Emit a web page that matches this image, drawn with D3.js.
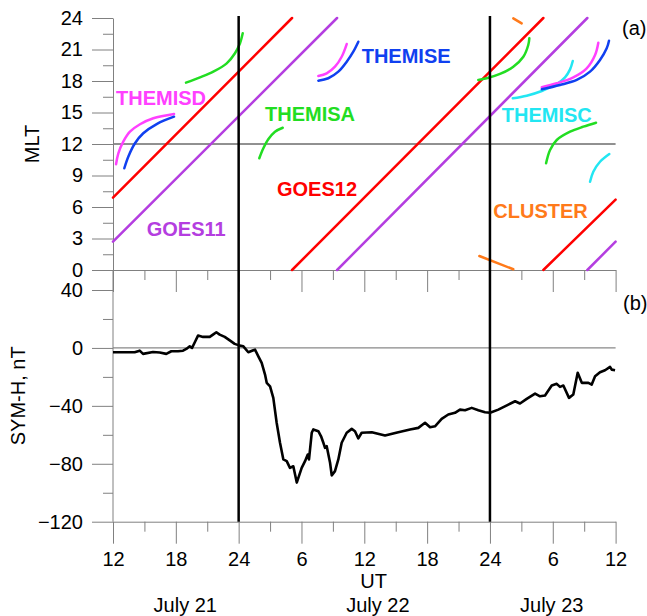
<!DOCTYPE html>
<html>
<head>
<meta charset="utf-8">
<script src="https://cdn.jsdelivr.net/npm/d3@7"></script>
<style>
  body { margin: 0; background: #fff; }
  svg { display: block; font-family: "Liberation Sans", Arial, sans-serif; }
  .axis path, .axis line { stroke: #808080; }
  .axis text { fill: #000; font-size: 20px; }
  .sat { fill: none; stroke-width: 2.5; stroke-linecap: round; }
</style>
</head>
<body>
<svg id="chart" width="647" height="616"></svg>
<script>
// UT in hours counted from July 21 00 UT
const utTicks = [12, 18, 24, 30, 36, 42, 48, 54, 60]
const utTickLabels = ['12', '18', '24', '6', '12', '18', '24', '6', '12']
const utMinorTicks = [15, 21, 27, 33, 39, 45, 51, 57]
const dayLines = [24, 48]
const dayLabels = ['July 21', 'July 22', 'July 23']
const dayLabelUT = [18.9, 37.3, 53.9]

const mltTicks = [0, 3, 6, 9, 12, 15, 18, 21, 24]
const mltMinorTicks = [1.5, 4.5, 7.5, 10.5, 13.5, 16.5, 19.5, 22.5]
const symTicks = [-120, -80, -40, 0, 40]
const symMinorTicks = [-100, -60, -20, 20]

// satellite MLT tracks, [UT, MLT] per point, one array per segment
const goes12 = [
  [[12, 6.9], [29.1, 24]],
  [[29.1, 0], [53.1, 24]],
  [[53.1, 0], [60, 6.7]],
]
const goes11 = [
  [[12, 2.7], [33.4, 24]],
  [[33.4, 0], [57.3, 24]],
  [[57.3, 0], [60, 2.7]],
]
const themisD = [
  [[12.29, 10.07], [12.51, 11.11], [12.98, 12.22], [13.62, 13.17], [14.58, 13.88], [15.85, 14.45], [17.83, 14.86]],
  [[31.61, 18.48], [32.41, 18.73], [33.2, 19.36], [33.84, 20.31], [34.32, 21.52]],
  [[52.95, 17.4], [54.38, 17.78], [55.96, 18.35], [57.24, 19.21], [58.04, 20.48], [58.35, 21.65]],
]
const themisE = [
  [[13.08, 9.69], [13.46, 10.79], [14.1, 12.07], [14.89, 13.02], [16.17, 13.9], [17.83, 14.6]],
  [[31.61, 18.03], [32.56, 18.26], [33.52, 18.89], [34.32, 19.84], [34.95, 20.79], [35.43, 21.74]],
  [[52.95, 17.21], [54.69, 17.62], [56.29, 18.1], [57.56, 18.89], [58.51, 20.0], [59.15, 21.11], [59.37, 21.84]],
]
const themisA = [
  [[18.97, 17.84], [20.31, 18.35], [21.58, 18.89], [22.86, 19.68], [23.65, 20.64], [24.13, 21.59], [24.39, 22.54]],
  [[25.97, 10.64], [26.36, 11.59], [26.83, 12.45], [27.47, 13.17], [28.21, 13.55]],
  [[46.89, 18.1], [47.69, 18.26], [48.96, 18.67], [50.23, 19.36], [51.19, 20.31], [51.66, 21.43], [51.76, 22.06]],
  [[53.36, 10.16], [53.74, 11.43], [54.38, 12.38], [55.65, 13.17], [56.92, 13.65], [58.13, 14.03]],
]
const themisC = [
  [[50.18, 16.35], [51.51, 16.6], [52.95, 17.05], [54.38, 17.71], [55.17, 18.35], [55.65, 19.11], [55.91, 19.9]],
  [[57.56, 8.41], [57.87, 9.36], [58.51, 10.31], [59.4, 11.05]],
]
const cluster = [
  [[46.99, 1.33], [50.23, 0.07]],
  [[50.23, 23.97], [51.03, 23.49]],
]

const tracks = [
  { name: 'GOES11', color: '#b43ee0', segs: goes11, label: [15.22, 3.24] },
  { name: 'GOES12', color: '#ff0000', segs: goes12, label: [27.66, 7.05] },
  { name: 'THEMISA', color: '#22dd22', segs: themisA, label: [26.52, 14.22] },
  { name: 'THEMISC', color: '#22e6f2', segs: themisC, label: [49.13, 14.12] },
  { name: 'THEMISD', color: '#ff40ff', segs: themisD, label: [12.29, 15.71] },
  { name: 'THEMISE', color: '#1040f0', segs: themisE, label: [35.75, 19.69] },
  { name: 'CLUSTER', color: '#ff7a1a', segs: cluster, label: [48.32, 4.92] },
]

// SYM-H index
const symUT = [12.0, 14.07, 14.55, 14.87, 15.82, 16.46, 17.09, 17.57, 18.21, 18.69, 19.0, 19.33, 19.55, 19.86,
  20.12, 20.6, 21.24, 21.55, 21.87, 22.19, 22.67, 23.15, 23.62, 24.1, 24.45, 24.92, 25.4, 25.56, 25.88,
  26.2, 26.52, 26.68, 27.0, 27.31, 27.63, 27.95, 28.27, 28.59, 28.9, 29.22, 29.55, 30.02, 30.34, 30.6,
  30.72, 30.98, 31.13, 31.61, 31.87, 32.09, 32.25, 32.41, 32.73, 32.89, 33.2, 33.52, 33.84, 34.32, 34.8,
  35.11, 35.43, 35.75, 36.71, 37.98, 39.25, 40.37, 41.16, 41.8, 42.28, 42.75, 43.39, 44.02, 44.66, 45.14,
  45.62, 46.26, 46.89, 47.53, 48.01, 48.8, 49.76, 50.4, 50.87, 51.51, 52.31, 52.78, 53.26, 53.9, 54.38,
  54.69, 55.01, 55.55, 55.96, 56.38, 56.77, 57.4, 57.72, 58.04, 58.51, 58.99, 59.47, 59.63, 59.95]
const symH = [-3.0, -3.0, -1.9, -4.1, -2.8, -3.2, -4.1, -2.3, -2.3, -1.9, -0.7, 1.1, 0, 4.6,
  8.5, 7.6, 7.6, 9.2, 10.8, 9.2, 7.6, 5.2, 2.8, 1.6, 1.1, -3.0, -1.6, -1.2, -5.8,
  -10.3, -18.4, -24.1, -26.5, -34.5, -51.7, -65.5, -77, -78.2, -82.8, -81.7, -93, -82.8, -78.2, -73.6,
  -77, -58.6, -56.3, -57.5, -61, -65.5, -69, -67.9, -79.3, -88, -85.1, -77, -65.5, -58.6, -55.9,
  -57.5, -62.5, -58.6, -58.2, -60.5, -58.2, -56.3, -55.2, -51.7, -54.8, -54.1, -49, -46, -44.8, -42.6,
  -43, -41.4, -43, -44.4, -44.8, -42.6, -39.1, -36.8, -38.4, -35.2, -31.5, -33.4, -32.9, -26, -24.8,
  -26.9, -26, -34.5, -32.2, -17.2, -24.1, -24.1, -25.3, -19.6, -16.8, -15.4, -13.1, -15, -15.4]

const svg = d3.select('#chart')
const X0 = 113, X1 = 615.6
const TOP = 18, MID = 270, BOT = 521.7

const x = d3.scaleLinear().domain([12, 60]).range([X0, X1])
const yMlt = d3.scaleLinear().domain([0, 24]).range([MID, TOP])
const ySym = d3.scaleLinear().domain([-120, 40]).range([BOT, 290])

// reference lines
svg.append('line').attr('x1', X0).attr('x2', X1).attr('y1', yMlt(12)).attr('y2', yMlt(12))
  .attr('stroke', '#222').attr('stroke-width', 1)
svg.append('line').attr('x1', X0).attr('x2', X1).attr('y1', ySym(0)).attr('y2', ySym(0))
  .attr('stroke', '#888').attr('stroke-width', 1.2)

// axes
const noLabel = () => ''
svg.append('g').attr('class', 'axis').attr('transform', `translate(${X0},0)`)
  .call(d3.axisLeft(yMlt).tickValues(mltMinorTicks).tickSize(10).tickFormat(noLabel))
  .call(g => g.select('.domain').remove())
svg.append('g').attr('class', 'axis').attr('transform', `translate(${X0},0)`)
  .call(d3.axisLeft(yMlt).tickValues(mltTicks).tickSize(21).tickPadding(9).tickSizeOuter(0))
svg.append('g').attr('class', 'axis').attr('transform', `translate(${X0},0)`)
  .call(d3.axisLeft(ySym).tickValues(symMinorTicks).tickSize(10).tickFormat(noLabel))
  .call(g => g.select('.domain').remove())
svg.append('g').attr('class', 'axis').attr('transform', `translate(${X0},0)`)
  .call(d3.axisLeft(ySym).tickValues(symTicks).tickSize(21).tickPadding(9).tickSizeOuter(0))
  .call(g => g.select('.domain').attr('d', `M0,${MID}V${BOT}`))

for (const yy of [MID, BOT]) {
  svg.append('g').attr('class', 'axis').attr('transform', `translate(0,${yy})`)
    .call(d3.axisBottom(x).tickValues(utMinorTicks).tickSize(10).tickFormat(noLabel))
    .call(g => g.select('.domain').remove())
  svg.append('g').attr('class', 'axis').attr('transform', `translate(0,${yy})`)
    .call(d3.axisBottom(x).tickValues(utTicks).tickSize(22).tickSizeOuter(0).tickPadding(8)
      .tickFormat((d, i) => yy === BOT ? utTickLabels[i] : ''))
}

// satellite tracks
const line = d3.line().x(d => x(d[0])).y(d => yMlt(d[1])).curve(d3.curveCatmullRom)
tracks.forEach(t => {
  svg.append('g').selectAll('path').data(t.segs).join('path')
    .attr('class', 'sat').attr('stroke', t.color).attr('d', line)
  svg.append('text').text(t.name)
    .attr('x', x(t.label[0])).attr('y', yMlt(t.label[1]))
    .attr('fill', t.color).style('font-size', '20px').style('font-weight', 'bold')
})

// SYM-H curve
const symLine = d3.line().x(d => x(d[0])).y(d => ySym(d[1]))
svg.append('path').datum(symUT.map((u, i) => [u, symH[i]]))
  .attr('d', symLine).attr('fill', 'none').attr('stroke', '#000')
  .attr('stroke-width', 2.6).attr('stroke-linejoin', 'round')

// day boundaries
svg.selectAll('.day').data(dayLines).join('line').attr('class', 'day')
  .attr('x1', d => x(d)).attr('x2', d => x(d)).attr('y1', 16).attr('y2', BOT)
  .attr('stroke', '#000').attr('stroke-width', 2.5)

// labels
const txt = (s, px, py, anchor = 'middle', rot = 0) => svg.append('text').text(s)
  .attr('transform', `translate(${px},${py}) rotate(${rot})`)
  .attr('text-anchor', anchor).style('font-size', '20px')
txt('MLT', 39, yMlt(12), 'middle', -90)
txt('SYM-H, nT', 25, (MID + BOT) / 2, 'middle', -90)
txt('UT', 373.7, 588)
dayLabels.forEach((d, i) => txt(d, x(dayLabelUT[i]), 611.5))
txt('(a)', 622, 35, 'start')
txt('(b)', 623, 310, 'start')
</script>
</body>
</html>
